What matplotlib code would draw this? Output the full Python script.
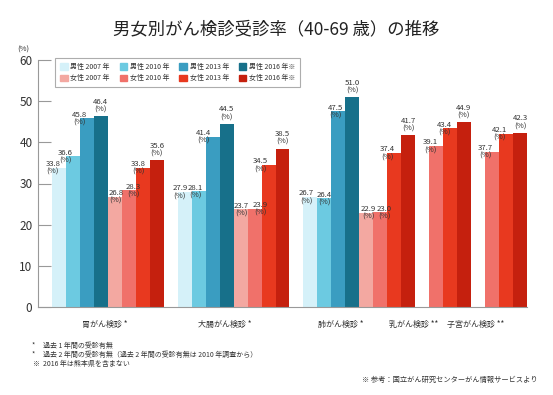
import numpy as np
import matplotlib

matplotlib.use("Agg")
import matplotlib.pyplot as plt
from matplotlib.patches import Patch

plt.rcParams["font.family"] = ["Noto Sans CJK JP", "DejaVu Sans"]

# data (受診率 %)
cancers = ["胃がん検診 *", "大腸がん検診 *", "肺がん検診 *", "乳がん検診 **", "子宮がん検診 **"]
years = [2007, 2010, 2013, 2016]
male_2007 = [33.8, 27.9, 26.7, np.nan, np.nan]
male_2010 = [36.6, 28.1, 26.4, np.nan, np.nan]
male_2013 = [45.8, 41.4, 47.5, np.nan, np.nan]
male_2016 = [46.4, 44.5, 51.0, np.nan, np.nan]
female_2007 = [26.8, 23.7, 22.9, np.nan, np.nan]
female_2010 = [28.3, 23.9, 23.0, 39.1, 37.7]
female_2013 = [33.8, 34.5, 37.4, 43.4, 42.1]
female_2016 = [35.6, 38.5, 41.7, 44.9, 42.3]
yticks = [0, 10, 20, 30, 40, 50, 60]

male = [male_2007, male_2010, male_2013, male_2016]
female = [female_2007, female_2010, female_2013, female_2016]

male_colors = ["#d5f1f9", "#6ccae1", "#3a9dc1", "#17708a"]
female_colors = ["#f3a8a1", "#f0716a", "#e8391f", "#c5200e"]
text_col = "#333333"

# horizontal nudge of each value label (in bar widths from the bar's left edge)
male_dx = [[0.07, -0.03, -0.03, 0.5], [0.16, 0.27, -0.15, 0.5], [0.2, 0.5, 0.3, 0.5]]
female_dx = [[0.58, 0.8, 0.16, 0.5], [0.56, 0.9, -0.1, 0.5], [0.66, 0.8, 0.0, 0.5],
             [0, 0.1, 0.1, 0.45], [0, 0.0, 0.0, 0.5]]

W, H = 553, 395
fig = plt.figure(figsize=(W / 100, H / 100), dpi=100)
ax = fig.add_axes([38 / W, 88 / H, 489 / W, 247 / H])

# slot layout: each bar takes one slot
group_start = [0, 9, 18, 26, 30]
label_pos = [3.8, 12.4, 20.7, 25.9, 30.3]


def value_label(x, v, j, dx):
    dy = 0.6 if j == 3 else -2.0
    ax.text(x + dx, v + dy, f"{v}\n(%)", ha="center", va="bottom",
            fontsize=5.6, color=text_col, linespacing=1.0)


for g, start in enumerate(group_start):
    has_male = not np.isnan(male[0][g])
    pos = start
    if has_male:
        for j in range(4):
            v = male[j][g]
            ax.bar(pos, v, width=1, align="edge", color=male_colors[j], linewidth=0)
            value_label(pos, v, j, male_dx[g][j])
            pos += 1
    for j in range(4):
        v = female[j][g]
        if not np.isnan(v):
            ax.bar(pos, v, width=1, align="edge", color=female_colors[j], linewidth=0)
            value_label(pos, v, j, female_dx[g][j])
        pos += 1

ax.set_xlim(-1, 34)
ax.set_ylim(0, 60)
ax.set_yticks(yticks)
ax.set_xticks(label_pos)
ax.set_xticklabels(cancers, fontsize=5.8, color=text_col)
ax.tick_params(axis="x", length=0, pad=9)
ax.tick_params(axis="y", direction="in", length=9, color="#999999", width=0.8,
               labelsize=8.5, labelcolor=text_col, pad=4)
for s in ["top", "right"]:
    ax.spines[s].set_visible(False)
for s in ["left", "bottom"]:
    ax.spines[s].set_color("#999999")
    ax.spines[s].set_linewidth(0.8)

# legend (two rows, 4 columns)
handles, labels = [], []
for j, y in enumerate(years):
    mark = "※" if y == 2016 else ""
    handles += [Patch(color=male_colors[j]), Patch(color=female_colors[j])]
    labels += [f"男性 {y} 年{mark}", f"女性 {y} 年{mark}"]
leg = fig.legend(handles, labels, ncol=4, loc="upper left",
                 bbox_to_anchor=(55 / W, 1 - 58 / H), borderaxespad=0,
                 fontsize=5, frameon=True, fancybox=False, handlelength=1.1,
                 handleheight=1.0, handletextpad=0.4, columnspacing=1.4,
                 labelspacing=0.5, borderpad=0.7, labelcolor=text_col)
leg.get_frame().set_edgecolor("#999999")
leg.get_frame().set_linewidth(0.8)

fig.text(276 / W, 1 - 29 / H, "男女別がん検診受診率（40-69 歳）の推移",
         ha="center", va="center", fontsize=12.5, color="#222222")
fig.text(23 / W, 1 - 50 / H, "(%)", ha="center", va="center", fontsize=5.5,
         color=text_col)

notes = [("*", "過去 1 年間の受診有無", 346),
         ("*", "過去 2 年間の受診有無（過去 2 年間の受診有無は 2010 年調査から）", 355),
         ("※", "2016 年は熊本県を含まない", 364)]
for mark, txt, y in notes:
    fig.text(32 / W, 1 - y / H, mark, ha="left", va="center", fontsize=5, color=text_col)
    fig.text(43 / W, 1 - y / H, txt, ha="left", va="center", fontsize=5, color=text_col)

fig.text(538 / W, 1 - 380 / H, "※ 参考：国立がん研究センターがん情報サービスより",
         ha="right", va="center", fontsize=5.2, color=text_col)

fig.savefig("out.png", dpi=100)
